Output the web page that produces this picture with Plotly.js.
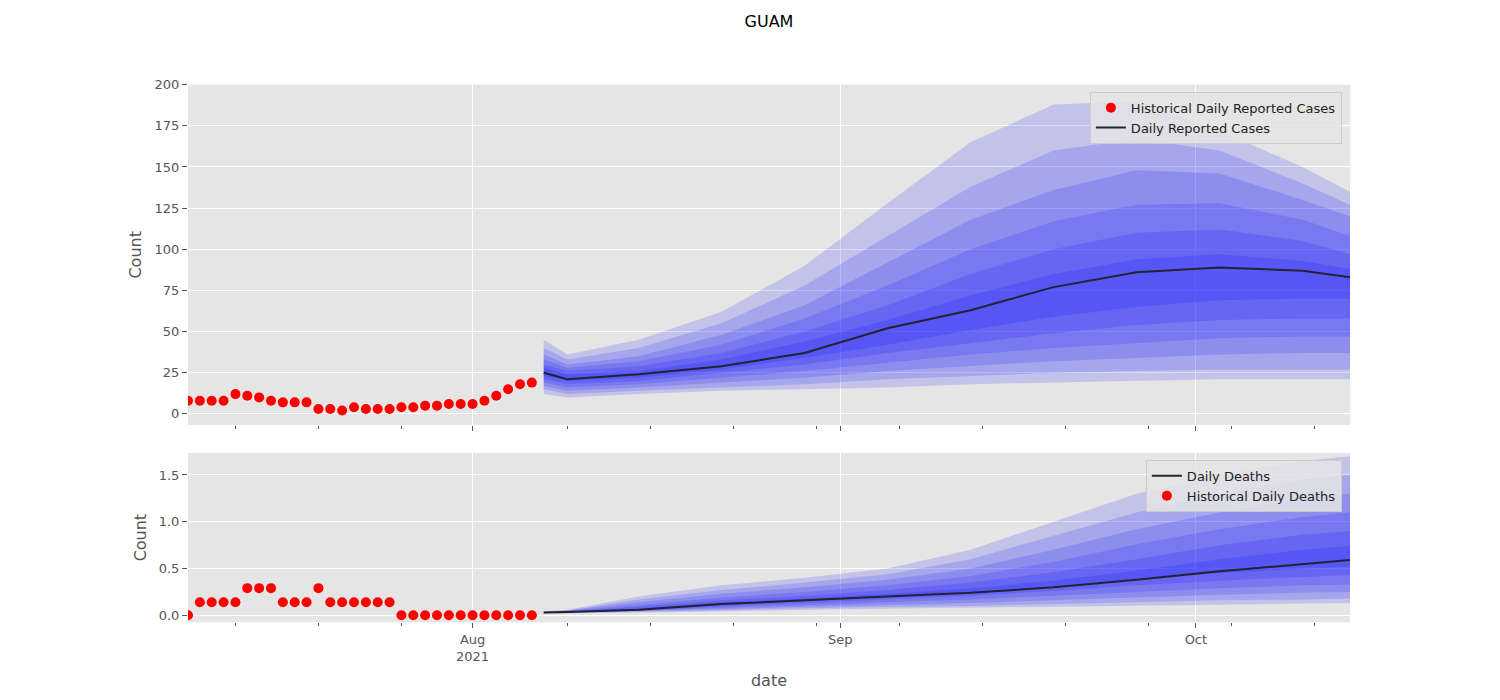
<!DOCTYPE html>
<html>
<head>
<meta charset="utf-8">
<script src="https://cdn.plot.ly/plotly-3.0.1.min.js"></script>
<style>body{margin:0;background:#fff}#plot{width:1500px;height:700px}</style>
</head>
<body>
<div id="plot"></div>
<script>
// historical observations
const histDates = [];
for (let d = 8; d <= 31; d++) histDates.push('2021-07-' + String(d).padStart(2, '0'));
for (let d = 1; d <= 6; d++) histDates.push('2021-08-0' + d);
const histCases = [8, 8, 8, 8, 12, 11, 10, 8, 7, 7, 7, 3, 3, 2, 4, 3, 3, 3, 4, 4, 5, 5, 6, 6, 6, 8, 11, 15, 18, 19];
const histDeaths = [0, 0.14, 0.14, 0.14, 0.14, 0.29, 0.29, 0.29, 0.14, 0.14, 0.14, 0.29, 0.14, 0.14, 0.14, 0.14, 0.14, 0.14,
  0, 0, 0, 0, 0, 0, 0, 0, 0, 0, 0, 0];

// forecast
const fcDates = ['2021-08-07', '2021-08-09', '2021-08-15', '2021-08-22', '2021-08-29', '2021-09-05',
  '2021-09-12', '2021-09-19', '2021-09-26', '2021-10-03', '2021-10-10', '2021-10-14'];
const caseMedian = [25, 21, 24, 29, 37, 52, 63, 77, 86, 89, 87, 83];
const caseUpper = [
  [45, 36, 45, 62, 90, 128, 165, 188, 190, 172, 150, 135],
  [40, 33, 40, 55, 78, 108, 138, 160, 167, 160, 140, 127],
  [36, 30, 35, 48, 66, 92, 118, 136, 148, 146, 130, 120],
  [33, 28, 32, 42, 58, 78, 100, 117, 127, 128, 118, 108],
  [30, 26, 29, 37, 50, 66, 85, 100, 110, 112, 105, 97],
  [28, 24, 26, 33, 44, 57, 72, 85, 94, 97, 93, 88]
];
const caseLower = [
  [12, 10, 12, 14, 15, 16, 18, 19, 20, 21, 21, 21],
  [15, 12, 14, 16, 18, 21, 23, 25, 26, 27, 27, 27],
  [17, 14, 16, 19, 22, 26, 29, 32, 34, 36, 37, 37],
  [19, 16, 18, 22, 26, 31, 36, 40, 43, 46, 47, 47],
  [21, 18, 20, 25, 30, 37, 43, 49, 54, 57, 58, 58],
  [23, 20, 22, 27, 34, 42, 51, 59, 65, 69, 70, 70]
];
const deathMedian = [.03, .035, .06, .12, .16, .2, .24, .3, .38, .47, .55, .59];
const deathUpper = [
  [.04, .06, .2, .32, .4, .5, .7, 1.0, 1.3, 1.5, 1.65, 1.7],
  [.04, .05, .17, .27, .35, .44, .6, .85, 1.1, 1.3, 1.45, 1.5],
  [.035, .05, .14, .23, .3, .38, .5, .7, .92, 1.1, 1.25, 1.3],
  [.035, .045, .11, .19, .25, .32, .42, .57, .76, .92, 1.05, 1.1],
  [.03, .04, .09, .16, .21, .27, .35, .46, .6, .75, .86, .9],
  [.03, .04, .075, .14, .18, .23, .29, .37, .48, .6, .7, .74]
];
const deathLower = [
  [.02, .02, .03, .04, .06, .07, .08, .09, .1, .11, .12, .13],
  [.02, .025, .035, .05, .07, .09, .1, .12, .14, .16, .17, .18],
  [.025, .03, .04, .065, .09, .11, .13, .16, .19, .22, .24, .25],
  [.025, .03, .045, .08, .11, .14, .17, .21, .25, .29, .32, .33],
  [.03, .035, .05, .095, .13, .17, .21, .26, .32, .37, .41, .43],
  [.03, .035, .055, .11, .15, .2, .25, .31, .39, .45, .5, .52]
];

const minorTicks = ['2021-07-12', '2021-07-19', '2021-07-26', '2021-08-09', '2021-08-16', '2021-08-23',
  '2021-08-30', '2021-09-06', '2021-09-13', '2021-09-20', '2021-09-27', '2021-10-04', '2021-10-11'];

const traces = [];
function addPanel(lower, upper, median, hx, hy, xa, ya, lineName, dotName, legend) {
  for (let i = 0; i < lower.length; i++) {
    traces.push({x: fcDates, y: lower[i], xaxis: xa, yaxis: ya, mode: 'lines', line: {width: 0},
      showlegend: false, hoverinfo: 'skip'});
    traces.push({x: fcDates, y: upper[i], xaxis: xa, yaxis: ya, mode: 'lines', line: {width: 0},
      fill: 'tonexty', fillcolor: 'rgba(0,0,255,0.15)', showlegend: false, hoverinfo: 'skip'});
  }
  traces.push({x: fcDates, y: median, xaxis: xa, yaxis: ya, mode: 'lines', name: lineName,
    line: {color: '#222233', width: 2}, legend: legend});
  traces.push({x: hx, y: hy, xaxis: xa, yaxis: ya, mode: 'markers', name: dotName,
    marker: {color: 'red', size: 10}, legend: legend});
}
addPanel(caseLower, caseUpper, caseMedian, histDates, histCases, 'x', 'y', 'Daily Reported Cases', 'Historical Daily Reported Cases', 'legend');
addPanel(deathLower, deathUpper, deathMedian, histDates, histDeaths, 'x2', 'y2', 'Daily Deaths', 'Historical Daily Deaths', 'legend2');

const tickFont = {family: 'DejaVu Sans', size: 13, color: '#555'};
const xBase = {
  type: 'date', range: ['2021-07-08', '2021-10-14'], showgrid: true, gridcolor: '#fff', gridwidth: 1,
  tickmode: 'array', tickvals: ['2021-08-01', '2021-09-01', '2021-10-01'],
  ticks: 'outside', ticklen: 5, tickcolor: '#555', zeroline: false, tickfont: tickFont,
  minor: {tickmode: 'array', tickvals: minorTicks, ticks: 'outside', ticklen: 3, tickcolor: '#555', showgrid: false}
};
const legendBase = {xanchor: 'right', x: 0.993, yanchor: 'top', bgcolor: 'rgba(229,229,229,0.85)',
  bordercolor: '#ccc', borderwidth: 1, font: {family: 'DejaVu Sans', size: 13, color: '#222'}};

const layout = {
  width: 1500, height: 700, paper_bgcolor: '#fff', plot_bgcolor: '#e5e5e5',
  margin: {l: 188, r: 150, t: 0, b: 0},
  font: {family: 'DejaVu Sans'},
  title: {text: 'GUAM', x: 0.5, xref: 'paper', y: 0.97, yanchor: 'middle', font: {family: 'DejaVu Sans', size: 16, color: '#000'}},
  xaxis: Object.assign({}, xBase, {anchor: 'y', showticklabels: false}),
  xaxis2: Object.assign({}, xBase, {anchor: 'y2', matches: 'x', ticktext: ['Aug<br>2021', 'Sep', 'Oct'],
    title: {text: 'date', font: {size: 16, color: '#555'}, standoff: 12}}),
  yaxis: {domain: [0.393, 0.879], range: [-6.7, 200], tickvals: [0, 25, 50, 75, 100, 125, 150, 175, 200],
    gridcolor: '#fff', zeroline: false, ticks: 'outside', ticklen: 5, tickcolor: '#555', tickfont: tickFont,
    title: {text: 'Count', font: {size: 16, color: '#555'}, standoff: 8}},
  yaxis2: {domain: [0.111, 0.353], range: [-0.075, 1.736], tickvals: [0, 0.5, 1, 1.5], ticktext: ['0.0', '0.5', '1.0', '1.5'],
    gridcolor: '#fff', zeroline: false, ticks: 'outside', ticklen: 5, tickcolor: '#555', tickfont: tickFont,
    title: {text: 'Count', font: {size: 16, color: '#555'}, standoff: 8}},
  legend: Object.assign({}, legendBase, {y: 0.869}),
  legend2: Object.assign({}, legendBase, {y: 0.343})
};

Plotly.newPlot('plot', traces, layout, {displayModeBar: false});
</script>
</body>
</html>
